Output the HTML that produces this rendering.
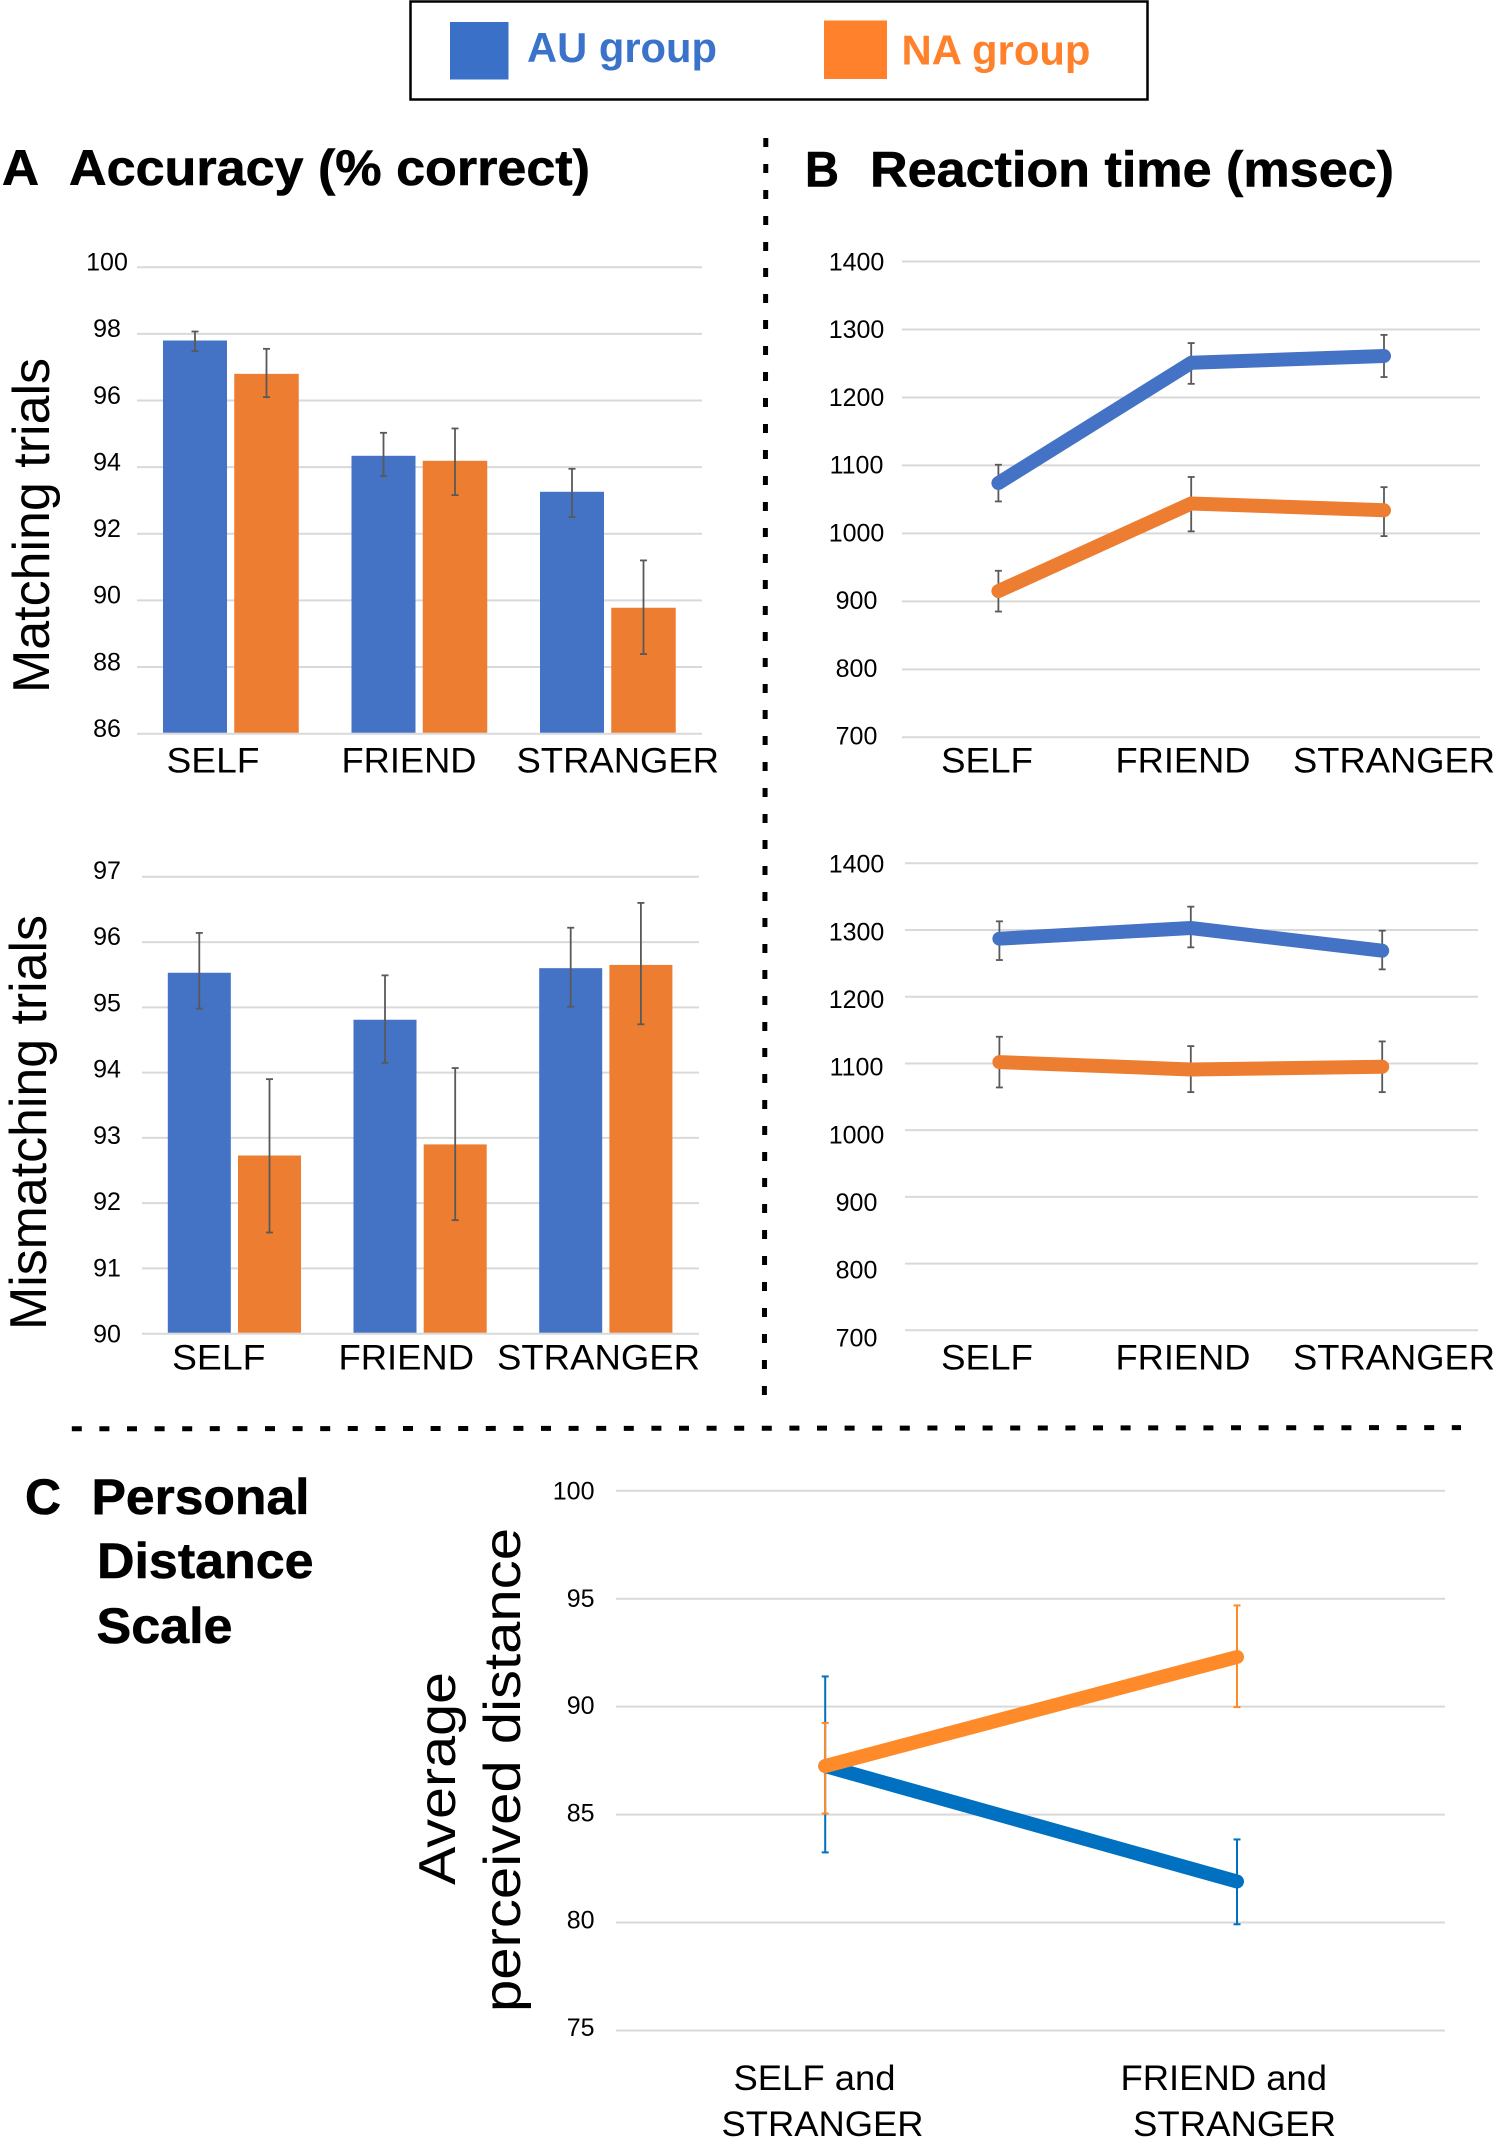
<!DOCTYPE html>
<html lang="en">
<head>
<meta charset="utf-8">
<title>Accuracy, reaction time and personal distance by group</title>
<style>
html,body{margin:0;padding:0;background:#fff}
svg{display:block;font-family:"Liberation Sans",Arial,sans-serif}
.h{font-weight:bold;font-size:50px;fill:#000;stroke:#000;stroke-width:.6px}
.yt{font-size:52px;fill:#000}
</style>
</head>
<body>
<svg id="figure" xmlns="http://www.w3.org/2000/svg" width="1502" height="2145" viewBox="0 0 1502 2145">
<rect x="0" y="0" width="1502" height="2145" fill="#fff"/>
<g>
<rect x="410.5" y="1.5" width="737" height="98" fill="#fff" stroke="#000" stroke-width="2.5"/>
<rect x="450" y="22" width="58.5" height="57.5" fill="#3A70C8"/>
<text x="527" y="62" font-size="42" font-weight="bold" fill="#3B73CA" textLength="190" lengthAdjust="spacingAndGlyphs">AU group</text>
<rect x="824" y="20.5" width="63" height="58.5" fill="#FF812B"/>
<text x="901.5" y="64.5" font-size="42" font-weight="bold" fill="#FF812B" textLength="189" lengthAdjust="spacingAndGlyphs">NA group</text>
</g>
<text class="h" x="2" y="185" textLength="37" lengthAdjust="spacingAndGlyphs">A</text>
<text class="h" x="69" y="185" textLength="521" lengthAdjust="spacingAndGlyphs">Accuracy (% correct)</text>
<text class="h" x="805" y="186.5" textLength="34" lengthAdjust="spacingAndGlyphs">B</text>
<text class="h" x="870" y="186.5" textLength="524" lengthAdjust="spacingAndGlyphs">Reaction time (msec)</text>
<text class="h" x="25" y="1514" textLength="36" lengthAdjust="spacingAndGlyphs">C</text>
<text class="h" x="91.5" y="1514" textLength="218" lengthAdjust="spacingAndGlyphs">Personal</text>
<text class="h" x="97" y="1578" textLength="216.5" lengthAdjust="spacingAndGlyphs">Distance</text>
<text class="h" x="96.5" y="1643" textLength="136" lengthAdjust="spacingAndGlyphs">Scale</text>
<text class="yt" transform="translate(49 693) rotate(-90)" textLength="335" lengthAdjust="spacingAndGlyphs">Matching trials</text>
<text class="yt" transform="translate(46 1330) rotate(-90)" textLength="415" lengthAdjust="spacingAndGlyphs">Mismatching trials</text>
<text class="yt" transform="translate(455 1885) rotate(-90)" textLength="213" lengthAdjust="spacingAndGlyphs">Average</text>
<text class="yt" transform="translate(520 2012) rotate(-90)" textLength="484" lengthAdjust="spacingAndGlyphs">perceived distance</text>
<line x1="765.8" y1="138" x2="764.4" y2="1398" stroke="#000" stroke-width="5" stroke-dasharray="9 17"/>
<line x1="71.8" y1="1428.8" x2="1461" y2="1427.6" stroke="#000" stroke-width="5" stroke-dasharray="10 17.6"/>
<g id="plots"></g>
</svg>
<script>
// Shared categories
const categories = ['SELF', 'FRIEND', 'STRANGER'];
const distanceCategories = ['SELF and', 'FRIEND and'];

// Panel A, matching trials
const accMatchTicks = [100, 98, 96, 94, 92, 90, 88, 86];
const accMatchAU = [97.80, 94.34, 93.26];
const accMatchNA = [96.80, 94.19, 89.78];
const accMatchAUHigh = [98.07, 95.03, 93.95];
const accMatchAULow = [97.48, 93.73, 92.50];
const accMatchNAHigh = [97.55, 95.16, 91.20];
const accMatchNALow = [96.10, 93.16, 88.39];

// Panel A, mismatching trials
const accMismatchTicks = [97, 96, 95, 94, 93, 92, 91, 90];
const accMismatchAU = [95.53, 94.81, 95.60];
const accMismatchNA = [92.73, 92.90, 95.65];
const accMismatchAUHigh = [96.14, 95.49, 96.22];
const accMismatchAULow = [94.98, 94.15, 95.01];
const accMismatchNAHigh = [93.90, 94.07, 96.60];
const accMismatchNALow = [91.55, 91.74, 94.74];

// Panel B, matching trials
const rtTicks = [1400, 1300, 1200, 1100, 1000, 900, 800, 700];
const rtMatchAU = [1074, 1251, 1261];
const rtMatchNA = [915, 1044, 1034];
const rtMatchAUHigh = [1101, 1280, 1292];
const rtMatchAULow = [1047, 1220, 1230];
const rtMatchNAHigh = [945, 1083, 1068];
const rtMatchNALow = [885, 1003, 996];

// Panel B, mismatching trials
const rtMismatchAU = [1287, 1303, 1269];
const rtMismatchNA = [1102, 1091, 1095];
const rtMismatchAUHigh = [1313, 1335, 1299];
const rtMismatchAULow = [1255, 1274, 1241];
const rtMismatchNAHigh = [1140, 1126, 1133];
const rtMismatchNALow = [1064, 1057, 1057];

// Panel C, personal distance
const distTicks = [100, 95, 90, 85, 80, 75];
const distAU = [87.25, 81.90];
const distNA = [87.25, 92.30];
const distAUHigh = [91.40, 83.85];
const distAULow = [83.25, 79.92];
const distNAHigh = [89.25, 94.69];
const distNALow = [85.05, 89.98];

const SVG_NS = 'http://www.w3.org/2000/svg';
const plots = document.getElementById('plots');

function make(tag, attrs, parent) {
  const node = document.createElementNS(SVG_NS, tag);
  for (const key in attrs) node.setAttribute(key, attrs[key]);
  parent.appendChild(node);
  return node;
}
function linear(d0, d1, r0, r1) {
  return function (v) { return r0 + (v - d0) * (r1 - r0) / (d1 - d0); };
}
function group(name) {
  const g = make('g', {}, plots);
  
  
  return g;
}
function drawGrid(parent, ticks, y, labelY, x0, x1, labelX, anchor) {
  ticks.forEach(function (t) {
    const line = make('line', { x1: x0, x2: x1, y1: y(t), y2: y(t), stroke: '#D9D9D9', 'stroke-width': 2 }, parent);
    
    
    const label = make('text', { x: labelX, y: labelY(t), 'font-size': 25, fill: '#000', 'text-anchor': anchor }, parent);
    
    
    label.textContent = t;
  });
}
function drawCategoryLabels(parent, names, starts, widths, baseline) {
  names.forEach(function (name, i) {
    const label = make('text', { x: starts[i], y: baseline, 'font-size': 35, fill: '#000', textLength: widths[i], lengthAdjust: 'spacingAndGlyphs' }, parent);
    
    
    label.textContent = name;
  });
}
function drawError(parent, x, yTop, yBottom, color, width) {
  const stem = make('line', { x1: x, x2: x, y1: yTop, y2: yBottom, stroke: color, 'stroke-width': width }, parent);
  
  
  [yTop, yBottom].forEach(function (yy) {
    const cap = make('line', { x1: x - 3.5, x2: x + 3.5, y1: yy, y2: yy, stroke: color, 'stroke-width': width }, parent);
    
    
  });
}
function drawBars(parent, values, high, low, x, y, base, offset, width, color) {
  values.forEach(function (v, i) {
    const top = y(v);
    const bar = make('rect', { x: x(i) + offset - width / 2, y: top, width: width, height: y(base) - 1 - top, fill: color }, parent);
    
    
  });
  values.forEach(function (v, i) {
    drawError(parent, x(i) + offset, y(high[i]), y(low[i]), '#595959', 1.8);
  });
}
function drawSeriesLine(parent, values, x, y, color, thickness) {
  const pts = values.map(function (v, i) { return x(i) + ',' + y(v); }).join(' ');
  const line = make('polyline', { points: pts, fill: 'none', stroke: color, 'stroke-width': thickness, 'stroke-linecap': 'round', 'stroke-linejoin': 'round' }, parent);
  
  
}
function drawErrors(parent, high, low, x, y, color, width) {
  high.forEach(function (h, i) {
    drawError(parent, x(i), y(h), y(low[i]), color, width);
  });
}

const BLUE = '#4472C4', ORANGE = '#ED7D31';

// Panel A top
(function () {
  const g = group('accuracy-matching-chart');
  const y = linear(100, 86, 267.2, 733.7);
  const ly = linear(100, 86, 270.5, 737);
  const x = linear(0, 1, 230.5, 419);
  drawGrid(g, accMatchTicks, y, ly, 137, 702, 107, 'middle');
  drawBars(g, accMatchAU, accMatchAUHigh, accMatchAULow, x, y, 86, -35.5, 64, BLUE);
  drawBars(g, accMatchNA, accMatchNAHigh, accMatchNALow, x, y, 86, 36, 64.5, ORANGE);
  drawCategoryLabels(g, categories, [166.5, 341.5, 516.5], [93, 135, 202.5], 772.7);
})();

// Panel A bottom
(function () {
  const g = group('accuracy-mismatching-chart');
  const y = linear(97, 90, 876.8, 1333.7);
  const ly = linear(97, 90, 879, 1342.5);
  const x = linear(0, 1, 234.5, 420.2);
  drawGrid(g, accMismatchTicks, y, ly, 142, 699, 107, 'middle');
  drawBars(g, accMismatchAU, accMismatchAUHigh, accMismatchAULow, x, y, 90, -35.2, 63, BLUE);
  drawBars(g, accMismatchNA, accMismatchNAHigh, accMismatchNALow, x, y, 90, 35, 63, ORANGE);
  drawCategoryLabels(g, categories, [172, 338.5, 497], [93.5, 135.5, 203], 1369.3);
})();

// Panel B top
(function () {
  const g = group('reaction-time-matching-chart');
  const y = linear(1400, 700, 261.5, 737.3);
  const ly = linear(1400, 700, 270.5, 744.5);
  const x = linear(0, 1, 998.4, 1191.2);
  drawGrid(g, rtTicks, y, ly, 902, 1480, 856.5, 'middle');
  drawErrors(g, rtMatchAUHigh, rtMatchAULow, x, y, '#595959', 1.8);
  drawErrors(g, rtMatchNAHigh, rtMatchNALow, x, y, '#595959', 1.8);
  drawSeriesLine(g, rtMatchAU, x, y, BLUE, 14);
  drawSeriesLine(g, rtMatchNA, x, y, ORANGE, 14);
  drawCategoryLabels(g, categories, [941, 1115.5, 1293], [92, 135, 202], 772.7);
})();

// Panel B bottom
(function () {
  const g = group('reaction-time-mismatching-chart');
  const y = linear(1400, 700, 863.3, 1330.3);
  const ly = linear(1400, 700, 872.6, 1346.3);
  const x = linear(0, 1, 999.4, 1190.8);
  drawGrid(g, rtTicks, y, ly, 905, 1478, 856.5, 'middle');
  drawErrors(g, rtMismatchAUHigh, rtMismatchAULow, x, y, '#595959', 1.8);
  drawErrors(g, rtMismatchNAHigh, rtMismatchNALow, x, y, '#595959', 1.8);
  drawSeriesLine(g, rtMismatchAU, x, y, BLUE, 14);
  drawSeriesLine(g, rtMismatchNA, x, y, ORANGE, 14);
  drawCategoryLabels(g, categories, [941, 1115.5, 1293], [92, 135, 202], 1369.3);
})();

// Panel C
(function () {
  const g = group('personal-distance-chart');
  const y = linear(100, 75, 1490.8, 2030.5);
  const ly = linear(100, 75, 1499.5, 2036);
  const x = linear(0, 1, 825.2, 1237);
  drawGrid(g, distTicks, y, ly, 616, 1445, 594.5, 'end');
  drawErrors(g, distAUHigh, distAULow, x, y, '#0070C0', 2);
  drawErrors(g, distNAHigh, distNALow, x, y, '#FF8A2A', 2);
  drawSeriesLine(g, distAU, x, y, '#0070C0', 14);
  drawSeriesLine(g, distNA, x, y, '#FF8A2A', 14);
  drawCategoryLabels(g, distanceCategories, [733.5, 1120.5], [162, 206.5], 2090);
  drawCategoryLabels(g, [categories[2], categories[2]], [721.5, 1133], [202, 203], 2136);
})();
</script>
</body>
</html>
